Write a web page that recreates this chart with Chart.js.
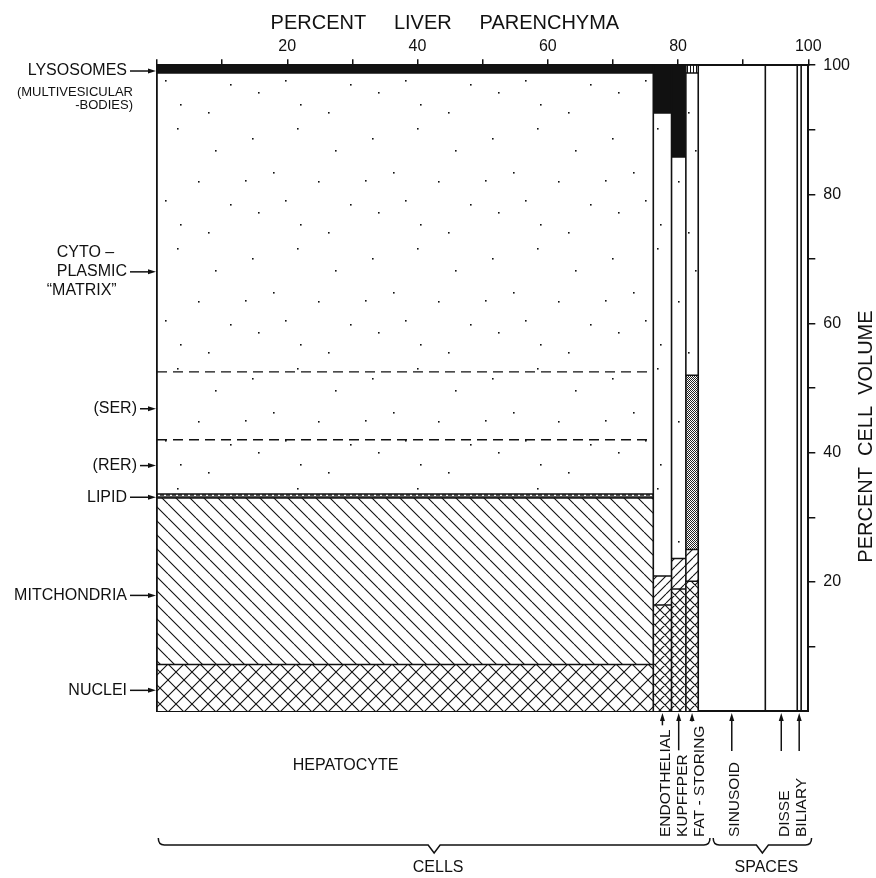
<!DOCTYPE html>
<html>
<head>
<meta charset="utf-8">
<script src="https://cdn.jsdelivr.net/npm/chart.js@4.4.0/dist/chart.umd.min.js"></script>
<style>
  body { margin: 0; background: #fff; }
</style>
</head>
<body>
<canvas id="liverChart" width="876" height="878"></canvas>
<script>
const ink = "#111";
const family = '"Liberation Sans", Arial, sans-serif';
const font = (size) => size + "px " + family;

// columns along the top axis (percent liver parenchyma)
const columnNames = ["HEPATOCYTE", "ENDOTHELIAL", "KUPFFPER", "FAT - STORING", "SINUSOID", "DISSE", "BILIARY"];
const columnStart = [0, 76.2, 79.0, 81.2, 83.1, 93.4, 98.3];
const columnEnd = [76.2, 79.0, 81.2, 83.1, 93.4, 98.3, 98.9];

// compartments of the 4 cell types, top of each band in percent cell volume
const compartments = ["nuclei", "mitochondria", "lipid", "matrix", "lysosomes"];
const nucleiTop = [7.2, 16.4, 18.9, 20.1];
const mitochondriaTop = [33.0, 20.9, 23.6, 25.0];
const lipidTop = [33.6, 20.9, 23.6, 52.0];
const matrixTop = [98.8, 92.6, 85.8, 98.8];
const lysosomesTop = [100, 100, 100, 100];

// SER / RER limits inside the hepatocyte matrix
const erBounds = [42.0, 52.5];

const xTicks = [20, 40, 60, 80, 100];
const yTicks = [20, 40, 60, 80, 100];

const leftLabels = ["LYSOSOMES", "PLASMIC", "(SER)", "(RER)", "LIPID", "MITCHONDRIA", "NUCLEI"];
const leftLabelValues = [99.1, 68.0, 46.8, 38.0, 33.1, 17.9, 3.2];

const groupLabels = ["CELLS", "SPACES"];
const groupStart = [0.2, 85.4];
const groupEnd = [84.9, 100.5];

// fill patterns
function tile(w, h, paint) {
  const c = document.createElement("canvas");
  c.width = w;
  c.height = h;
  const g = c.getContext("2d");
  g.fillStyle = "#fff";
  g.fillRect(0, 0, w, h);
  g.strokeStyle = ink;
  g.fillStyle = ink;
  g.lineWidth = 1.1;
  paint(g, w, h);
  return g.createPattern(c, "repeat");
}

function hatch(size, dirs) {
  return tile(size, size, (g, s) => {
    g.beginPath();
    for (const o of [-s, 0, s]) {
      if (dirs.includes("\\")) { g.moveTo(o, 0); g.lineTo(o + s, s); }
      if (dirs.includes("/")) { g.moveTo(o, s); g.lineTo(o + s, 0); }
    }
    g.stroke();
  });
}

const stipple = tile(120, 120, (g) => {
  [[12, 18], [57, 8], [95, 30], [33, 52], [78, 61], [110, 84], [18, 92], [60, 104], [88, 112], [45, 80], [5, 60]]
    .forEach(([a, b]) => g.fillRect(a, b, 1.6, 1.6));
});
const dense = tile(2, 2, (g) => { g.fillStyle = "#222"; g.fillRect(0, 0, 1, 1); g.fillRect(1, 1, 1, 1); });
const beads = tile(6, 6, (g) => { g.fillStyle = "#555"; g.fillRect(0, 0, 6, 6); g.fillStyle = "#fff"; g.fillRect(2, 2, 2, 2); });
const stripes = tile(3, 3, (g) => { g.fillRect(0, 0, 1, 3); });

function patternFor(name, col) {
  const big = col === 0;
  if (name === "nuclei") return big ? hatch(16, "\\/") : hatch(10, "\\/");
  if (name === "mitochondria") return big ? hatch(14, "\\") : hatch(9, "/");
  if (name === "lipid") return big ? beads : dense;
  if (name === "matrix") return stipple;
  return col === 3 ? stripes : ink;
}

const datasets = [];
const tops = [nucleiTop, mitochondriaTop, lipidTop, matrixTop, lysosomesTop];
for (let c = 0; c < 4; c++) {
  let bottom = 0;
  tops.forEach((arr, k) => {
    const top = arr[c];
    if (top > bottom) {
      datasets.push({
        label: columnNames[c] + " " + compartments[k],
        data: [{ x: columnStart[c], y: top }, { x: columnEnd[c], y: top }],
        fill: { value: bottom },
        backgroundColor: patternFor(compartments[k], c),
        borderColor: ink,
        borderWidth: 1.5,
      });
    }
    bottom = Math.max(bottom, top);
  });
}

// dashed ER limits
erBounds.forEach((v) => {
  datasets.push({
    data: [{ x: columnStart[0], y: v }, { x: columnEnd[0], y: v }],
    fill: false, borderColor: ink, borderWidth: 1.3, borderDash: [10, 6],
  });
});

// column edges
const edges = [...new Set([...columnStart, ...columnEnd])];
edges.forEach((e) => {
  datasets.push({
    data: [{ x: e, y: 0 }, { x: e, y: 100 }],
    fill: false, borderColor: ink, borderWidth: 1.6,
  });
});

function arrowRight(ctx, x0, x1, py) {
  ctx.beginPath();
  ctx.moveTo(x0, py);
  ctx.lineTo(x1 - 6, py);
  ctx.stroke();
  ctx.beginPath();
  ctx.moveTo(x1, py);
  ctx.lineTo(x1 - 8, py - 2.5);
  ctx.lineTo(x1 - 8, py + 2.5);
  ctx.closePath();
  ctx.fill();
}

function arrowUp(ctx, px, tip, tail) {
  ctx.beginPath();
  ctx.moveTo(px, tip + 6);
  ctx.lineTo(px, tail);
  ctx.stroke();
  ctx.beginPath();
  ctx.moveTo(px, tip);
  ctx.lineTo(px - 2.5, tip + 8);
  ctx.lineTo(px + 2.5, tip + 8);
  ctx.closePath();
  ctx.fill();
}

function brace(ctx, x0, x1, yb) {
  const xm = (x0 + x1) / 2;
  ctx.beginPath();
  ctx.moveTo(x0, yb - 7);
  ctx.quadraticCurveTo(x0, yb, x0 + 6, yb);
  ctx.lineTo(xm - 6, yb);
  ctx.lineTo(xm, yb + 8);
  ctx.lineTo(xm + 6, yb);
  ctx.lineTo(x1 - 6, yb);
  ctx.quadraticCurveTo(x1, yb, x1, yb - 7);
  ctx.stroke();
}

const annotations = {
  id: "annotations",
  afterDraw(chart) {
    const { ctx, chartArea: area, scales: { x, y } } = chart;
    ctx.save();
    ctx.fillStyle = ink;
    ctx.strokeStyle = ink;
    ctx.lineWidth = 1.5;
    ctx.textBaseline = "middle";

    // top axis title, sits left of centre in the original
    ctx.font = font(20);
    ctx.textAlign = "center";
    ctx.fillText("PERCENT     LIVER     PARENCHYMA", x.getPixelForValue(44.2), area.top - 42);

    // left labels with arrows
    leftLabels.forEach((text, i) => {
      const py = y.getPixelForValue(leftLabelValues[i]);
      const right = area.left - (text.startsWith("(") ? 20 : 30);
      ctx.font = font(16);
      ctx.textAlign = "right";
      ctx.fillText(text, right, py);
      arrowRight(ctx, right + 3, area.left - 1, py);
    });
    const lyso = y.getPixelForValue(leftLabelValues[0]);
    ctx.font = font(13);
    ctx.textAlign = "right";
    ctx.fillText("(MULTIVESICULAR", area.left - 24, lyso + 21);
    ctx.fillText("-BODIES)", area.left - 24, lyso + 34);
    const plasmic = y.getPixelForValue(leftLabelValues[1]);
    ctx.font = font(16);
    ctx.textAlign = "left";
    const plLeft = area.left - 30 - ctx.measureText(leftLabels[1]).width;
    ctx.fillText("CYTO \u2013", plLeft, plasmic - 19);
    ctx.fillText("\u201CMATRIX\u201D", plLeft - 10, plasmic + 19);

    // hepatocyte label under its column
    ctx.textAlign = "center";
    ctx.fillText(columnNames[0], x.getPixelForValue(columnStart[0] + 0.38 * (columnEnd[0] - columnStart[0])), area.bottom + 55);

    // the narrow columns get vertical labels and arrows
    ctx.font = font(15.5);
    let prev = -Infinity;
    const base = area.bottom + 126;
    for (let i = 1; i < columnNames.length; i++) {
      const ax = x.getPixelForValue((columnStart[i] + columnEnd[i]) / 2);
      const tx = Math.max(ax + 2, prev + 17);
      prev = tx;
      const w = ctx.measureText(columnNames[i]).width;
      ctx.save();
      ctx.translate(tx, base);
      ctx.rotate(-Math.PI / 2);
      ctx.textAlign = "left";
      ctx.fillText(columnNames[i], 0, 1);
      ctx.restore();
      arrowUp(ctx, ax, area.bottom + 2, Math.min(base - w - 4, area.bottom + 40));
    }

    // braces
    ctx.font = font(16);
    ctx.textAlign = "center";
    groupLabels.forEach((g, i) => {
      const x0 = x.getPixelForValue(groupStart[i]);
      const x1 = x.getPixelForValue(groupEnd[i]);
      brace(ctx, x0, x1, area.bottom + 134);
      ctx.fillText(g, (x0 + x1) / 2 + 4, area.bottom + 157);
    });

    // right axis title, reading upwards
    ctx.save();
    ctx.translate(area.right + 58, y.getPixelForValue(42.5));
    ctx.rotate(-Math.PI / 2);
    ctx.font = font(20);
    ctx.textAlign = "center";
    ctx.fillText("PERCENT  CELL  VOLUME", 0, 0);
    ctx.restore();

    ctx.restore();
  },
};

Chart.defaults.font.family = family;
Chart.defaults.color = ink;

new Chart(document.getElementById("liverChart"), {
  type: "line",
  data: { datasets: datasets },
  options: {
    responsive: false,
    animation: false,
    events: [],
    elements: { point: { radius: 0 }, line: { tension: 0 } },
    layout: { padding: { left: 157, right: 18, top: 34, bottom: 167 } },
    plugins: {
      legend: { display: false },
      tooltip: { enabled: false },
      filler: { drawTime: "beforeDatasetsDraw" },
    },
    scales: {
      x: {
        type: "linear",
        position: "top",
        min: 0,
        max: 100,
        ticks: {
          stepSize: 10, autoSkip: false, maxRotation: 0, padding: 3, color: ink,
          font: { size: 16 },
          callback: (v) => (xTicks.includes(v) ? v : ""),
        },
        grid: { drawOnChartArea: false, tickLength: 6, color: ink, lineWidth: 1.5 },
        border: { color: ink, width: 2 },
      },
      xBase: {
        axis: "x", type: "linear", position: "bottom", min: 0, max: 100,
        ticks: { display: false },
        grid: { display: false, drawTicks: false },
        border: { color: ink, width: 2 },
      },
      y: {
        type: "linear",
        position: "right",
        min: 0,
        max: 100,
        ticks: {
          stepSize: 10, autoSkip: false, padding: 8, color: ink,
          font: { size: 16 },
          callback: (v) => (yTicks.includes(v) ? v : ""),
        },
        grid: {
          drawOnChartArea: false, tickLength: 7, lineWidth: 1.5,
          color: (c) => (c.tick && c.tick.value === 0 ? "rgba(0,0,0,0)" : ink),
        },
        border: { color: ink, width: 2 },
      },
      yBase: {
        axis: "y", type: "linear", position: "left", min: 0, max: 100,
        ticks: { display: false },
        grid: { display: false, drawTicks: false },
        border: { color: ink, width: 2 },
      },
    },
  },
  plugins: [annotations],
});
</script>
</body>
</html>
